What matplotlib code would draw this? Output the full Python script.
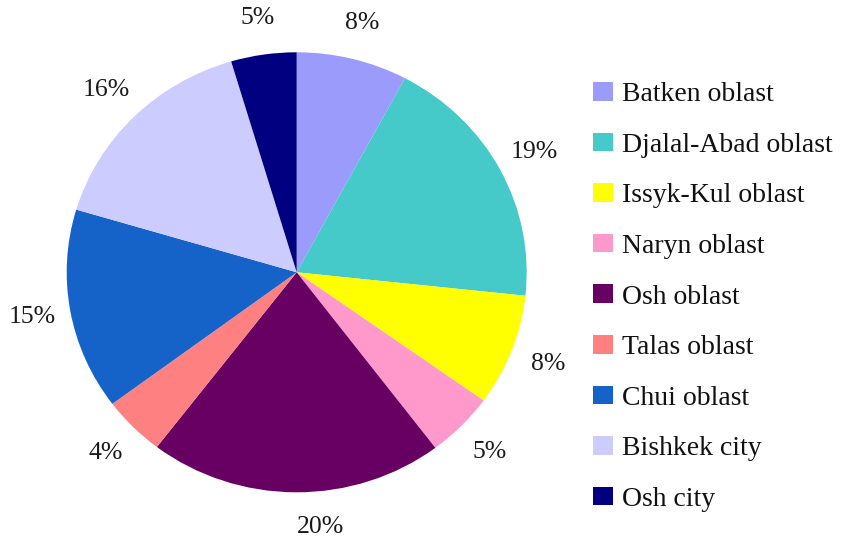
import matplotlib
matplotlib.use("Agg")
import matplotlib.pyplot as plt

categories = ["Batken oblast", "Djalal-Abad oblast", "Issyk-Kul oblast", "Naryn oblast",
              "Osh oblast", "Talas oblast", "Chui oblast", "Bishkek city", "Osh city"]
values = [7.8, 18.9, 8.2, 4.8, 20.7, 4.4, 14.8, 15.8, 4.6]
pct_labels = ["8%", "19%", "8%", "5%", "20%", "4%", "15%", "16%", "5%"]
colors = ["#9B9BFB", "#46C9C9", "#FFFF00", "#FF99CC", "#680064",
          "#FF8080", "#1563C9", "#CCCCFF", "#000080"]

plt.rcParams['font.family'] = ['Liberation Serif', 'DejaVu Serif']

W, H = 847, 539
fig = plt.figure(figsize=(W / 100, H / 100), dpi=100)

# pie centre and radii in pixels (image is slightly stretched horizontally)
cx, cy = 296.7, 272.3
rx, ry = 230.0, 220.0
hw, hh = 290.0, 262.0
ax = fig.add_axes([(cx - hw) / W, (H - cy - hh) / H, 2 * hw / W, 2 * hh / H])

wedges, texts = ax.pie(values, labels=pct_labels, colors=colors, startangle=90,
                       counterclock=False, labeldistance=1.17,
                       wedgeprops=dict(linewidth=0),
                       textprops=dict(ha='center', va='center', fontsize=18.5, color='#1a1a1a'))
ax.set_aspect('auto')
ax.set_xlim(-hw / rx, hw / rx)
ax.set_ylim(-hh / ry, hh / ry)
ax.axis('off')

# the bottom label sits slightly right of the slice middle in the reference
tx, ty = texts[4].get_position()
texts[4].set_position((tx + 25 / rx, ty + 3 / ry))

leg = fig.legend(wedges, categories, loc='center left',
                 bbox_to_anchor=(593 / W, (H - 297) / H), bbox_transform=fig.transFigure,
                 frameon=False, fontsize=20, borderpad=0, borderaxespad=0,
                 handlelength=0.72, handleheight=0.65, handletextpad=0.32,
                 labelspacing=0.92)
for t in leg.get_texts():
    t.set_color('#111111')

fig.savefig("out.png", dpi=100, facecolor='white')
